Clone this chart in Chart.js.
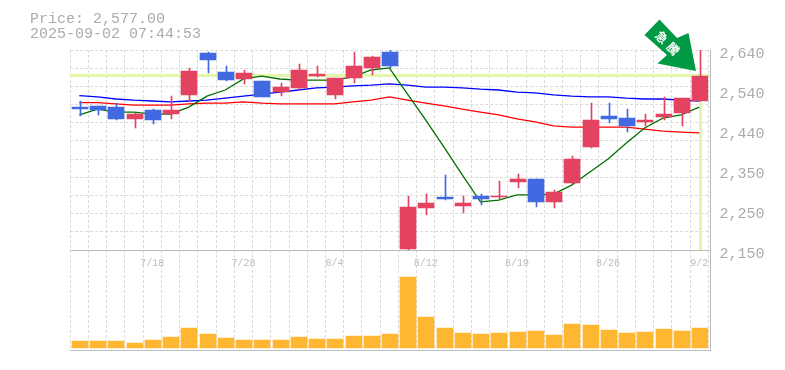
<!DOCTYPE html>
<html><head><meta charset="utf-8">
<style>html,body{margin:0;padding:0;background:#fff}canvas{display:block}</style>
<script src="https://cdn.jsdelivr.net/npm/chart.js@4/dist/chart.umd.min.js"></script>
</head><body><canvas id="c" width="785" height="370"></canvas>
<script>
const dates=['7/14','7/15','7/16','7/17','7/18','7/22','7/23','7/24','7/25','7/28','7/29','7/30','7/31','8/1','8/4','8/5','8/6','8/7','8/8','8/12','8/13','8/14','8/15','8/18','8/19','8/20','8/21','8/22','8/25','8/26','8/27','8/28','8/29','9/1','9/2'];
const shownDates=['7/18','7/28','8/4','8/12','8/19','8/26','9/2'];
const opens=[2500,2503,2500,2471,2493,2483,2530,2633,2586,2569,2564,2537,2547,2576,2530,2571,2596,2635,2152,2253,2280,2258,2282,2280,2317,2324,2268,2314,2402,2478,2473,2464,2476,2486,2515];
const closes=[2495,2493,2471,2483,2468,2493,2589,2615,2566,2584,2525,2549,2591,2581,2571,2601,2623,2601,2255,2265,2275,2265,2275,2282,2324,2268,2292,2373,2468,2471,2454,2468,2483,2522,2577];
const highs=[2515,2503,2510,2486,2495,2527,2596,2635,2601,2591,2564,2559,2606,2601,2571,2635,2625,2640,2282,2287,2334,2282,2287,2319,2336,2324,2297,2380,2510,2510,2495,2483,2525,2522,2640];
const lows=[2478,2481,2468,2449,2459,2471,2513,2584,2564,2557,2525,2527,2542,2574,2520,2559,2579,2596,2150,2236,2272,2241,2260,2275,2302,2255,2253,2312,2400,2461,2439,2454,2468,2454,2515];
const ma5=[2481,2495,2488,2488,2483,2483,2500,2527,2542,2569,2576,2569,2566,2566,2566,2574,2591,2596,2532,2468,2402,2334,2268,2272,2285,2285,2287,2309,2341,2373,2412,2449,2473,2481,2500];
const ma25=[2511,2511,2508,2505,2505,2505,2508,2510,2510,2513,2510,2508,2508,2508,2508,2513,2517,2525,2517,2510,2503,2495,2488,2481,2471,2464,2454,2451,2451,2451,2451,2446,2441,2439,2437];
const ma75=[2528,2525,2520,2517,2515,2513,2515,2517,2522,2527,2532,2537,2542,2547,2549,2552,2554,2557,2554,2549,2549,2547,2544,2542,2537,2535,2530,2527,2525,2525,2522,2520,2520,2517,2515];
const volumes=[7,7,7,5,8,11,20,14,10,8,8,8,11,9,9,12,12,14,71,31,20,15,14,15,16,17,13,24,23,18,15,16,19,17,20];
const priceLabels=['2,150','2,250','2,350','2,440','2,540','2,640'];
const lastPrice=2577;
const headerLines=['Price: 2,577.00','2025-09-02 07:44:53'];
const badgeChars=['急','騰'];

const RED='#E34261',BLUE='#4169E1',ORANGE='#FFB732',BAND='#E4F7A8',AXIS='#BBBBBB',GRID='#DADADA',TXT='#ABABAB',MONO='"Liberation Mono","DejaVu Sans Mono",monospace';
const candleColors=opens.map((o,i)=>closes[i]>=o?RED:BLUE);
const bodies=opens.map((o,i)=>[o,closes[i]]);
const wicks=lows.map((l,i)=>[l,highs[i]]);

const snap={id:'snap',afterDatasetsUpdate(ch){
  ch.data.datasets.forEach((ds,i)=>{
    if(ds.type!=='bar')return;
    ch.getDatasetMeta(i).data.forEach(el=>{
      el.x=Math.round(el.x+0.7)+(ds.wick?0.5:0);
      el.y=Math.round(el.y);el.base=Math.round(el.base);
    });
  });
}};
const deco={id:'deco',
 beforeDatasetsDraw(ch){
  const g=ch.ctx,a=ch.chartArea,x=ch.scales.x,y=ch.scales.y;
  const py=Math.round(y.getPixelForValue(lastPrice));
  const px=Math.round(x.getPixelForValue(dates.length-1)+0.7);
  g.save();g.fillStyle=BAND;
  g.fillRect(a.left,py-2,a.right+2-a.left,3);
  g.fillRect(px-1,py,3,y.bottom-py);
  g.restore();
 },
 afterDraw(ch){
  const g=ch.ctx,y=ch.scales.y,v=ch.scales.yVol;
  g.save();
  g.fillStyle=AXIS;
  g.fillRect(70,Math.round(y.bottom),641,1);
  g.fillRect(70,Math.round(v.bottom),641,1);
  g.fillRect(710,Math.round(y.top),1,v.bottom-y.top+1);
  g.fillStyle=TXT;g.font='15px '+MONO;g.textBaseline='alphabetic';
  headerLines.forEach((t,i)=>g.fillText(t,30,23+i*15));
  g.fillStyle='#009944';g.beginPath();
  [[659.5,19.5],[677,38],[688.5,33],[696,71],[657.5,63.5],[667,55],[644.5,35]].forEach((p,i)=>i?g.lineTo(p[0],p[1]):g.moveTo(p[0],p[1]));
  g.closePath();g.fill();
  g.translate(667.5,43);g.rotate(Math.PI/4);
  g.fillStyle='#fff';g.font='bold 12px "Noto Sans CJK JP"';g.textAlign='center';g.textBaseline='middle';
  g.fillText(badgeChars[0],-8,0);g.fillText(badgeChars[1],8,0);
  g.restore();
 }};

new Chart(document.getElementById('c'),{
 data:{labels:dates,datasets:[
  {type:'bar',wick:true,data:wicks,backgroundColor:candleColors,barThickness:1,grouped:false,yAxisID:'y',order:2},
  {type:'bar',data:bodies,backgroundColor:candleColors,barThickness:16,grouped:false,yAxisID:'y',order:1},
  {type:'line',data:ma5,borderColor:'#007000',borderWidth:1.3,pointRadius:0,tension:0,yAxisID:'y',order:3},
  {type:'line',data:ma25,borderColor:'#FF0000',borderWidth:1.3,pointRadius:0,tension:0,yAxisID:'y',order:4},
  {type:'line',data:ma75,borderColor:'#0000FF',borderWidth:1.3,pointRadius:0,tension:0,yAxisID:'y',order:5},
  {type:'bar',data:volumes,backgroundColor:ORANGE,barThickness:16,grouped:false,yAxisID:'yVol',order:6}
 ]},
 options:{responsive:false,animation:false,devicePixelRatio:1,
  layout:{padding:{left:70.2,right:0,top:50,bottom:20}},
  plugins:{legend:{display:false},tooltip:{enabled:false},title:{display:false}},
  scales:{
   x:{type:'category',offset:true,position:{yVol:98},
      grid:{display:true,offset:true,color:GRID,drawTicks:false},
      border:{display:false,dash:[3,2]},
      ticks:{autoSkip:false,maxRotation:0,minRotation:0,padding:7,color:'#BDBDBD',font:{family:MONO,size:10},
        callback(v){const l=this.getLabelForValue(v);return shownDates.includes(l)?l:'';}}},
   y:{type:'linear',position:'right',stack:'p',stackWeight:2,min:2150,max:2640,
      afterFit(s){s.width=76.6;},
      afterBuildTicks(s){s.ticks=Array.from({length:56},(_,i)=>({value:s.min+i*(s.max-s.min)/55}));},
      grid:{drawTicks:false,color:c=>c.index%5===0?GRID:'rgba(0,0,0,0)'},
      border:{display:false,dash:[3,2]},
      ticks:{autoSkip:false,padding:11,labelOffset:4,color:TXT,font:{family:MONO,size:15},
        callback(v,i){return i%11===0?priceLabels[i/11]:'';}}},
   yVol:{type:'linear',position:'right',stack:'p',stackWeight:1,min:-2,max:98,
      afterFit(s){s.width=76.6;},
      grid:{display:false},border:{display:false},ticks:{display:false}}
  }},
 plugins:[snap,deco]
});
</script></body></html>
